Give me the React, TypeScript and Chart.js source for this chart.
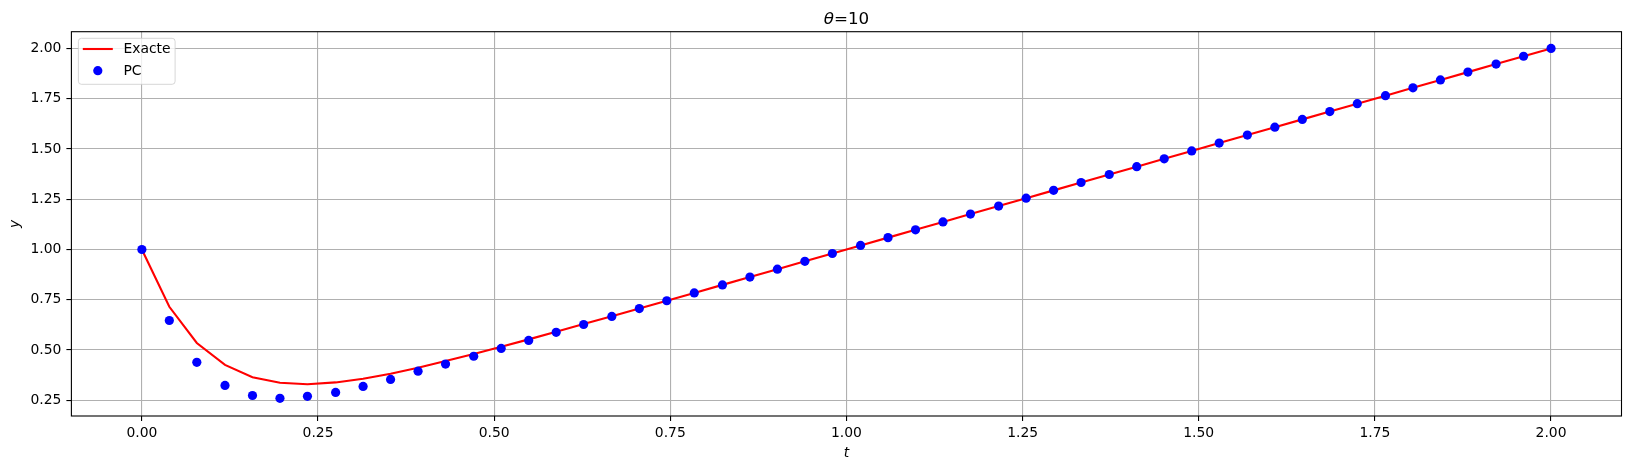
import { useEffect, useRef } from "react";
import { Chart, registerables } from "chart.js";

Chart.register(...registerables);

const tValues = [
  0.0, 0.039, 0.078, 0.118, 0.157, 0.196, 0.235, 0.275, 0.314, 0.353, 0.392, 0.431, 0.471,
  0.51, 0.549, 0.588, 0.627, 0.667, 0.706, 0.745, 0.784, 0.824, 0.863, 0.902, 0.941, 0.98,
  1.02, 1.059, 1.098, 1.137, 1.176, 1.216, 1.255, 1.294, 1.333, 1.373, 1.412, 1.451, 1.49,
  1.529, 1.569, 1.608, 1.647, 1.686, 1.725, 1.765, 1.804, 1.843, 1.882, 1.922, 1.961, 2.0,
];

const exactValues = [
  1.0, 0.715, 0.535, 0.426, 0.365, 0.337, 0.33, 0.339, 0.357, 0.382, 0.412, 0.445, 0.48,
  0.516, 0.553, 0.591, 0.629, 0.668, 0.706, 0.745, 0.784, 0.824, 0.863, 0.902, 0.941, 0.98,
  1.02, 1.059, 1.098, 1.137, 1.176, 1.216, 1.255, 1.294, 1.333, 1.373, 1.412, 1.451, 1.49,
  1.529, 1.569, 1.608, 1.647, 1.686, 1.725, 1.765, 1.804, 1.843, 1.882, 1.922, 1.961, 2.0,
];

const pcValues = [
  1.0, 0.647, 0.439, 0.324, 0.274, 0.26, 0.27, 0.289, 0.319, 0.354, 0.395, 0.43, 0.469,
  0.508, 0.548, 0.588, 0.627, 0.667, 0.706, 0.745, 0.784, 0.824, 0.863, 0.902, 0.941, 0.98,
  1.02, 1.059, 1.098, 1.137, 1.176, 1.216, 1.255, 1.294, 1.333, 1.373, 1.412, 1.451, 1.49,
  1.529, 1.569, 1.608, 1.647, 1.686, 1.725, 1.765, 1.804, 1.843, 1.882, 1.922, 1.961, 2.0,
];

const xTicks = [0, 0.25, 0.5, 0.75, 1.0, 1.25, 1.5, 1.75, 2.0];
const yTicks = [0.25, 0.5, 0.75, 1.0, 1.25, 1.5, 1.75, 2.0];

const seriesLabels = ["Exacte", "PC"];
const titleSymbol = "θ";
const titleRest = "=10";
const xLabel = "t";
const yLabel = "y";

const FONT = '"DejaVu Sans", "Liberation Sans", sans-serif';

const decorPlugin = {
  id: "decor",
  afterDraw(chart: any) {
    const { ctx, chartArea: a } = chart;
    ctx.save();
    // axes frame
    ctx.strokeStyle = "#000";
    ctx.lineWidth = 1.1;
    ctx.strokeRect(a.left, a.top, a.right - a.left, a.bottom - a.top);

    // title (mixed italic / normal)
    const cx = (a.left + a.right) / 2;
    const fItalic = `italic 16.7px ${FONT}`;
    const fNormal = `16.7px ${FONT}`;
    ctx.font = fItalic;
    const w1 = ctx.measureText(titleSymbol).width;
    ctx.font = fNormal;
    const w2 = ctx.measureText(titleRest).width;
    let x = cx - (w1 + w2) / 2;
    const by = 23.5;
    ctx.fillStyle = "#000";
    ctx.textAlign = "left";
    ctx.textBaseline = "alphabetic";
    ctx.font = fItalic;
    ctx.fillText(titleSymbol, x, by);
    x += w1;
    ctx.font = fNormal;
    ctx.fillText(titleRest, x, by);

    // legend
    const lx = a.left + 7;
    const ly = a.top + 6.6;
    const lw = 96.7;
    const lh = 46;
    ctx.beginPath();
    ctx.roundRect(lx, ly, lw, lh, 3);
    ctx.fillStyle = "rgba(255,255,255,0.8)";
    ctx.fill();
    ctx.strokeStyle = "rgba(204,204,204,0.8)";
    ctx.lineWidth = 1;
    ctx.stroke();

    const ds = chart.data.datasets;
    const row1 = ly + 10.7;
    const row2 = ly + 32.4;
    const hx0 = lx + 4.4;
    const hx1 = lx + 34.4;
    // line handle
    ctx.beginPath();
    ctx.moveTo(hx0, row1);
    ctx.lineTo(hx1, row1);
    ctx.strokeStyle = ds[0].borderColor;
    ctx.lineWidth = 2.1;
    ctx.stroke();
    // marker handle
    ctx.beginPath();
    ctx.arc((hx0 + hx1) / 2, row2, 4.6, 0, Math.PI * 2);
    ctx.fillStyle = ds[1].backgroundColor;
    ctx.fill();
    // labels
    ctx.fillStyle = "#000";
    ctx.font = `13.9px ${FONT}`;
    ctx.textBaseline = "middle";
    ctx.fillText(ds[0].label, lx + 45, row1 + 0.5);
    ctx.fillText(ds[1].label, lx + 45, row2 + 0.5);
    ctx.restore();
  },
};

export default function App() {
  const canvasRef = useRef<HTMLCanvasElement | null>(null);

  useEffect(() => {
    const canvas = canvasRef.current;
    if (!canvas) return;
    const exactData = tValues.map((t, i) => ({ x: t, y: exactValues[i] }));
    const pcData = tValues.map((t, i) => ({ x: t, y: pcValues[i] }));

    const chart = new Chart(canvas, {
      type: "scatter",
      data: {
        datasets: [
          {
            label: seriesLabels[0],
            data: exactData,
            showLine: true,
            borderColor: "#ff0000",
            backgroundColor: "#ff0000",
            borderWidth: 2.1,
            pointRadius: 0,
            pointHoverRadius: 0,
            tension: 0,
            order: 2,
          },
          {
            label: seriesLabels[1],
            data: pcData,
            showLine: false,
            borderColor: "#0000ff",
            backgroundColor: "#0000ff",
            borderWidth: 0,
            pointRadius: 4.6,
            pointHoverRadius: 4.6,
            order: 1,
          },
        ],
      },
      options: {
        responsive: false,
        animation: false,
        devicePixelRatio: 1,
        layout: { padding: { left: 0, right: 9.5, top: 31.7, bottom: 0 } },
        plugins: {
          legend: { display: false },
          title: { display: false },
          tooltip: { enabled: false },
        },
        scales: {
          x: {
            type: "linear",
            min: -0.1,
            max: 2.1,
            afterBuildTicks: (scale: any) => {
              scale.ticks = xTicks.map((v) => ({ value: v }));
            },
            afterFit: (scale: any) => {
              scale.height = 53;
            },
            grid: {
              color: "#b0b0b0",
              lineWidth: 1.1,
              tickColor: "#000",
              tickLength: 5,
              drawTicks: true,
            },
            border: { display: false },
            ticks: {
              color: "#000",
              padding: 4,
              maxRotation: 0,
              autoSkip: false,
              font: { family: FONT, size: 13.9 },
              callback: (v: any) => Number(v).toFixed(2),
            },
            title: {
              display: true,
              text: xLabel,
              color: "#000",
              font: { family: FONT, size: 13.9, style: "italic" },
              padding: { top: 0, bottom: 7.5 },
            },
          },
          y: {
            type: "linear",
            min: 0.172,
            max: 2.083,
            afterBuildTicks: (scale: any) => {
              scale.ticks = yTicks.map((v) => ({ value: v }));
            },
            afterFit: (scale: any) => {
              scale.width = 71.4;
            },
            grid: {
              color: "#b0b0b0",
              lineWidth: 1.1,
              tickColor: "#000",
              tickLength: 5,
              drawTicks: true,
            },
            border: { display: false },
            ticks: {
              color: "#000",
              padding: 5,
              autoSkip: false,
              font: { family: FONT, size: 13.9 },
              callback: (v: any) => Number(v).toFixed(2),
            },
            title: {
              display: true,
              text: yLabel,
              color: "#000",
              font: { family: FONT, size: 13.9, style: "italic" },
              padding: { top: 6.6, bottom: 0 },
            },
          },
        },
      },
      plugins: [decorPlugin],
    });

    return () => {
      chart.destroy();
    };
  }, []);

  return (
    <div style={{ position: "absolute", left: 0, top: 0, width: 1631, height: 469, background: "#fff" }}>
      <canvas ref={canvasRef} width={1631} height={469} style={{ display: "block" }} />
    </div>
  );
}
